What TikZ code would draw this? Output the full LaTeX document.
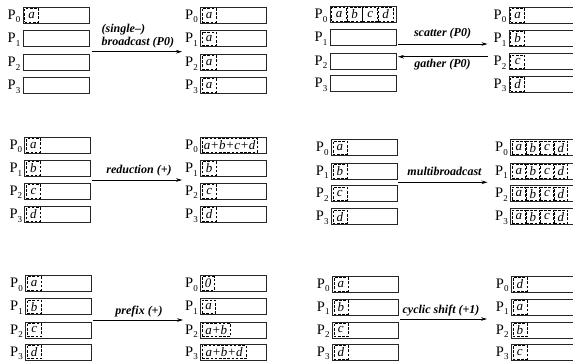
\documentclass[tikz,border=0pt]{standalone}
\usepackage{fontspec}
\setmainfont{Liberation Serif}
\usetikzlibrary{arrows.meta}
\tikzset{
  outbox/.style={draw=black!85, line width=0.9pt, minimum width=66pt, minimum height=16pt, inner sep=0pt, anchor=north west},
  plabel/.style={inner sep=0pt, anchor=base east, font=\fontsize{14.5}{14.5}\selectfont},
  cell/.style={draw, dash pattern=on 2.6pt off 1.6pt, line width=0.75pt, minimum height=13.5pt, inner sep=0.5pt, anchor=west, font=\fontsize{13}{13}\selectfont\itshape},
  arr/.style={line width=0.8pt, -{Stealth[length=6pt,width=3.6pt]}},
  alabel/.style={inner sep=0pt, font=\fontsize{12}{13}\selectfont\bfseries\itshape}
}
\newcommand\pbox[4]{%
  \node[outbox] (#1) at (#2,#3) {};
  \node[plabel] (#1l) at ([xshift=-2pt,yshift=4.3pt]#1.south west) {P\raisebox{-3.6pt}{\fontsize{9}{9}\selectfont #4}};
}
\newcommand\fillcells[3]{%
  \coordinate (#1c0) at ([xshift=1.8pt]#1.west);
  \foreach \t [count=\i, remember=\i as \j (initially 0)] in {#3} {
    \node[cell, minimum width=#2] (#1c\i) at (#1c\j.east) {\t};
  }
}
\newcommand\column[6]{% name, x, y0, y1, y2, y3
  \pbox{#1a}{#2}{#3}{0}
  \pbox{#1b}{#2}{#4}{1}
  \pbox{#1c}{#2}{#5}{2}
  \pbox{#1d}{#2}{#6}{3}
}
\begin{document}
\begin{tikzpicture}[x=1pt,y=-1pt]
\useasboundingbox (0,0) rectangle (573,361);
\clip (0,0) rectangle (573,361);

% ---------- broadcast ----------
\column{AL}{22.5}{6.7}{30.3}{53.8}{77}
\column{AR}{200}{6.7}{30.3}{53.8}{77}
\fillcells{ALa}{14pt}{a}
\fillcells{ARa}{14pt}{a}
\fillcells{ARb}{14pt}{a}
\fillcells{ARc}{14pt}{a}
\fillcells{ARd}{14pt}{a}
\coordinate (A1) at (91.7,51.7);
\coordinate (A2) at (182,51.7);
\draw[arr] (A1) -- (A2);
\node[alabel, align=left, anchor=base west] (Alab) at (101.5,45.5) {(single–)\\broadcast (P0)};

% ---------- scatter / gather ----------
\column{BL}{329.5}{6}{29.3}{52.7}{75.2}
\column{BR}{508.5}{6.7}{30}{53.3}{75.7}
\fillcells{BLa}{14.8pt}{a,b,c,d}
\fillcells{BRa}{14pt}{a}
\fillcells{BRb}{14pt}{b}
\fillcells{BRc}{14pt}{c}
\fillcells{BRd}{14pt}{d}
\coordinate (B1) at (398,44);
\coordinate (B2) at (487.5,44);
\coordinate (B3) at (487.5,56.7);
\coordinate (B4) at (398,56.7);
\draw[arr] (B1) -- (B2);
\draw[arr] (B3) -- (B4);
\node[alabel, anchor=base] (Blab1) at (442.5,36.5) {scatter (P0)};
\node[alabel, anchor=base] (Blab2) at (442.5,67) {gather (P0)};

% ---------- reduction ----------
\column{CL}{24.3}{136.7}{160}{182.7}{206}
\column{CR}{200}{136.7}{160}{182.7}{206}
\fillcells{CLa}{14pt}{a}
\fillcells{CLb}{14pt}{b}
\fillcells{CLc}{14pt}{c}
\fillcells{CLd}{14pt}{d}
\fillcells{CRa}{55pt}{a+b+c+d}
\fillcells{CRb}{14pt}{b}
\fillcells{CRc}{14pt}{c}
\fillcells{CRd}{14pt}{d}
\coordinate (C1) at (91.7,180);
\coordinate (C2) at (182,180);
\draw[arr] (C1) -- (C2);
\node[alabel, anchor=base] (Clab) at (139,173.5) {reduction (+)};

% ---------- multibroadcast ----------
\column{DL}{330.7}{139.3}{162.7}{185.3}{208.3}
\column{DR}{510}{139.3}{162.7}{185.3}{208.3}
\fillcells{DLa}{14pt}{a}
\fillcells{DLb}{14pt}{b}
\fillcells{DLc}{14pt}{c}
\fillcells{DLd}{14pt}{d}
\fillcells{DRa}{13.3pt}{a,b,c,d}
\fillcells{DRb}{13.3pt}{a,b,c,d}
\fillcells{DRc}{13.3pt}{a,b,c,d}
\fillcells{DRd}{13.3pt}{a,b,c,d}
\coordinate (D1) at (398,182.3);
\coordinate (D2) at (487.5,182.3);
\draw[arr] (D1) -- (D2);
\node[alabel, anchor=base] (Dlab) at (444.5,175.3) {multibroadcast};

% ---------- prefix ----------
\column{EL}{25}{275}{298.3}{321.5}{343.5}
\column{ER}{200}{275}{298.3}{321.5}{343.5}
\fillcells{ELa}{14pt}{a}
\fillcells{ELb}{14pt}{b}
\fillcells{ELc}{14pt}{c}
\fillcells{ELd}{14pt}{d}
\fillcells{ERa}{12pt}{0}
\fillcells{ERb}{13pt}{a}
\fillcells{ERc}{28pt}{a+b}
\fillcells{ERd}{44pt}{a+b+d}
\coordinate (E1) at (92.7,320);
\coordinate (E2) at (183,320);
\draw[arr] (E1) -- (E2);
\node[alabel, anchor=base] (Elab) at (139,314) {prefix (+)};

% ---------- cyclic shift ----------
\column{FL}{331.7}{275.7}{298.7}{321.5}{343.7}
\column{FR}{510.7}{275.7}{298.7}{321.5}{343.7}
\fillcells{FLa}{14pt}{a}
\fillcells{FLb}{14pt}{b}
\fillcells{FLc}{14pt}{c}
\fillcells{FLd}{14pt}{d}
\fillcells{FRa}{14pt}{d}
\fillcells{FRb}{14pt}{a}
\fillcells{FRc}{14pt}{b}
\fillcells{FRd}{14pt}{c}
\coordinate (F1) at (400,319);
\coordinate (F2) at (487,319);
\draw[arr] (F1) -- (F2);
\node[alabel, anchor=base] (Flab) at (441,313) {cyclic shift (+1)};
\end{tikzpicture}
\end{document}
